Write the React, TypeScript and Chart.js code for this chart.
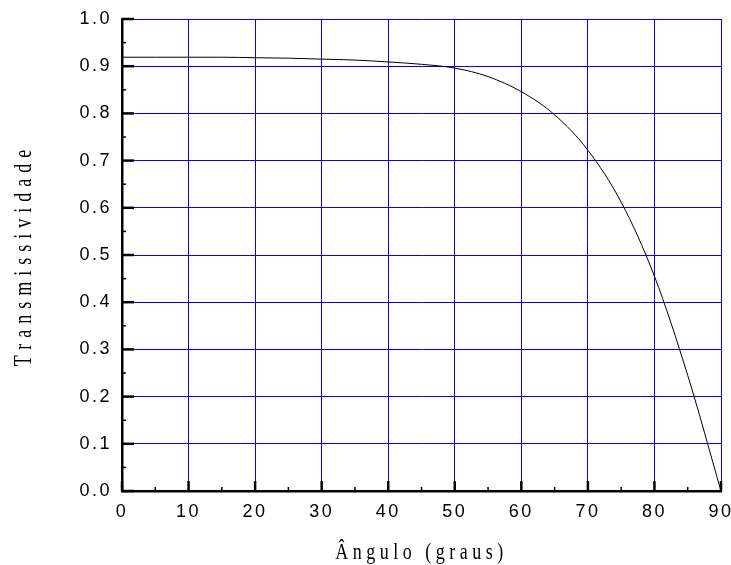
import React, { useEffect, useRef } from 'react';
import { Chart, registerables } from 'chart.js';

Chart.register(...registerables);

// Data
const angles = [0, 5, 10, 15, 20, 25, 30, 35, 40, 45, 50, 55, 60, 65, 70, 75, 80, 85, 90];
const transmissivity = [0.919, 0.919, 0.919, 0.919, 0.918, 0.917, 0.915, 0.913, 0.909, 0.904, 0.896, 0.878, 0.846, 0.797, 0.722, 0.612, 0.455, 0.245, 0.0];

const xTickValues = [0, 10, 20, 30, 40, 50, 60, 70, 80, 90];
const yTickValues = [0, 0.1, 0.2, 0.3, 0.4, 0.5, 0.6, 0.7, 0.8, 0.9, 1.0];
const xMinorValues = [5, 15, 25, 35, 45, 55, 65, 75, 85];
const yMinorValues = [0.05, 0.15, 0.25, 0.35, 0.45, 0.55, 0.65, 0.75, 0.85, 0.95];

const xTitle = 'Ângulo (graus)';
const yTitle = 'Transmissividade';

const TICK_FONT = '"Liberation Sans", Arial, sans-serif';
const TITLE_FONT = '"Liberation Serif", "Times New Roman", serif';
const TITLE_SIZE = 18;

const textStylePlugin = {
  id: 'textStyle',
  beforeDraw(chart: any) {
    const ctx = chart.ctx;
    ['x', 'y'].forEach((id) => {
      const s = chart.scales[id];
      if (!s || s.__patched) return;
      s.__patched = true;
      const origLabels = s.drawLabels;
      const origTitle = s.drawTitle;
      s.drawLabels = function (area: any) {
        ctx.letterSpacing = '2.5px';
        origLabels.call(this, area);
        ctx.letterSpacing = '0px';
      };
      s.drawTitle = function () {
        const lh = TITLE_SIZE * 1.2;
        ctx.save();
        if (id === 'x') {
          ctx.letterSpacing = '4.5px';
          const pad = this.options.title.padding.bottom ?? 0;
          const cy = this.bottom - lh / 2 - pad;
          ctx.translate(0, cy);
          ctx.scale(1, 1.25);
          ctx.translate(0, -cy);
        } else {
          ctx.letterSpacing = '6px';
          const pad = this.options.title.padding.top ?? 0;
          const cx = this.left + lh / 2 + pad;
          ctx.translate(cx, 0);
          ctx.scale(1.45, 1);
          ctx.translate(-cx, 0);
        }
        origTitle.call(this);
        ctx.restore();
        ctx.letterSpacing = '0px';
      };
    });
  },
};

const inwardTicksPlugin = {
  id: 'inwardTicks',
  afterDraw(chart: any) {
    const ctx = chart.ctx;
    const xs = chart.scales.x;
    const ys = chart.scales.y;
    const left = chart.chartArea.left;
    const bottom = chart.chartArea.bottom;
    ctx.save();
    ctx.strokeStyle = '#000';
    ctx.lineCap = 'butt';
    ctx.lineWidth = 2.5;
    yTickValues.forEach((v) => {
      const p = ys.getPixelForValue(v);
      ctx.beginPath();
      ctx.moveTo(left, p);
      ctx.lineTo(left + 12, p);
      ctx.stroke();
    });
    xTickValues.forEach((v) => {
      const p = xs.getPixelForValue(v);
      ctx.beginPath();
      ctx.moveTo(p, bottom);
      ctx.lineTo(p, bottom - 10);
      ctx.stroke();
    });
    ctx.lineWidth = 1.5;
    yMinorValues.forEach((v) => {
      const p = ys.getPixelForValue(v);
      ctx.beginPath();
      ctx.moveTo(left, p);
      ctx.lineTo(left + 4, p);
      ctx.stroke();
    });
    xMinorValues.forEach((v) => {
      const p = xs.getPixelForValue(v);
      ctx.beginPath();
      ctx.moveTo(p, bottom);
      ctx.lineTo(p, bottom - 4);
      ctx.stroke();
    });
    ctx.restore();
  },
};

export default function App() {
  const canvasRef = useRef<HTMLCanvasElement | null>(null);

  useEffect(() => {
    if (!canvasRef.current) return;
    const chart = new Chart(canvasRef.current, {
      type: 'line',
      data: {
        datasets: [
          {
            data: angles.map((a, i) => ({ x: a, y: transmissivity[i] })),
            borderColor: '#000000',
            borderWidth: 1,
            pointRadius: 0,
            fill: false,
            cubicInterpolationMode: 'monotone',
          },
        ],
      },
      options: {
        animation: false,
        responsive: false,
        devicePixelRatio: 1,
        layout: { padding: { top: 19, right: 10, left: 0, bottom: 0 } },
        plugins: { legend: { display: false }, tooltip: { enabled: false } },
        scales: {
          x: {
            type: 'linear',
            min: 0,
            max: 90,
            afterBuildTicks: (s: any) => {
              s.ticks = xTickValues.map((v) => ({ value: v }));
            },
            afterFit: (s: any) => {
              s.height = 74;
              s.paddingLeft = 0;
              s.paddingRight = 0;
            },
            grid: { color: '#0000ff', lineWidth: 1, drawTicks: false },
            border: { color: '#000000', width: 2.5 },
            ticks: {
              font: { family: TICK_FONT, size: 18 },
              color: '#000000',
              padding: 10,
              maxRotation: 0,
              autoSkip: false,
              callback: (v: any) => String(v),
            },
            title: {
              display: true,
              text: xTitle,
              color: '#000000',
              font: { family: TITLE_FONT, size: TITLE_SIZE },
              padding: { top: 0, bottom: 1 },
            },
          },
          y: {
            type: 'linear',
            min: 0,
            max: 1,
            afterBuildTicks: (s: any) => {
              s.ticks = yTickValues.map((v) => ({ value: v }));
            },
            afterFit: (s: any) => {
              s.width = 122;
              s.paddingTop = 0;
              s.paddingBottom = 0;
            },
            grid: { color: '#0000ff', lineWidth: 1, drawTicks: false },
            border: { color: '#000000', width: 2.5 },
            ticks: {
              font: { family: TICK_FONT, size: 18 },
              color: '#000000',
              padding: 10,
              autoSkip: false,
              callback: (v: any) => Number(v).toFixed(1),
            },
            title: {
              display: true,
              text: yTitle,
              color: '#000000',
              font: { family: TITLE_FONT, size: TITLE_SIZE },
              padding: { top: 13, bottom: 0 },
            },
          },
        },
      },
      plugins: [textStylePlugin, inwardTicksPlugin],
    } as any);
    return () => chart.destroy();
  }, []);

  return (
    <div style={{ position: 'fixed', left: 0, top: 0, width: 731, height: 565, background: '#fff' }}>
      <canvas ref={canvasRef} width={731} height={565} />
    </div>
  );
}
